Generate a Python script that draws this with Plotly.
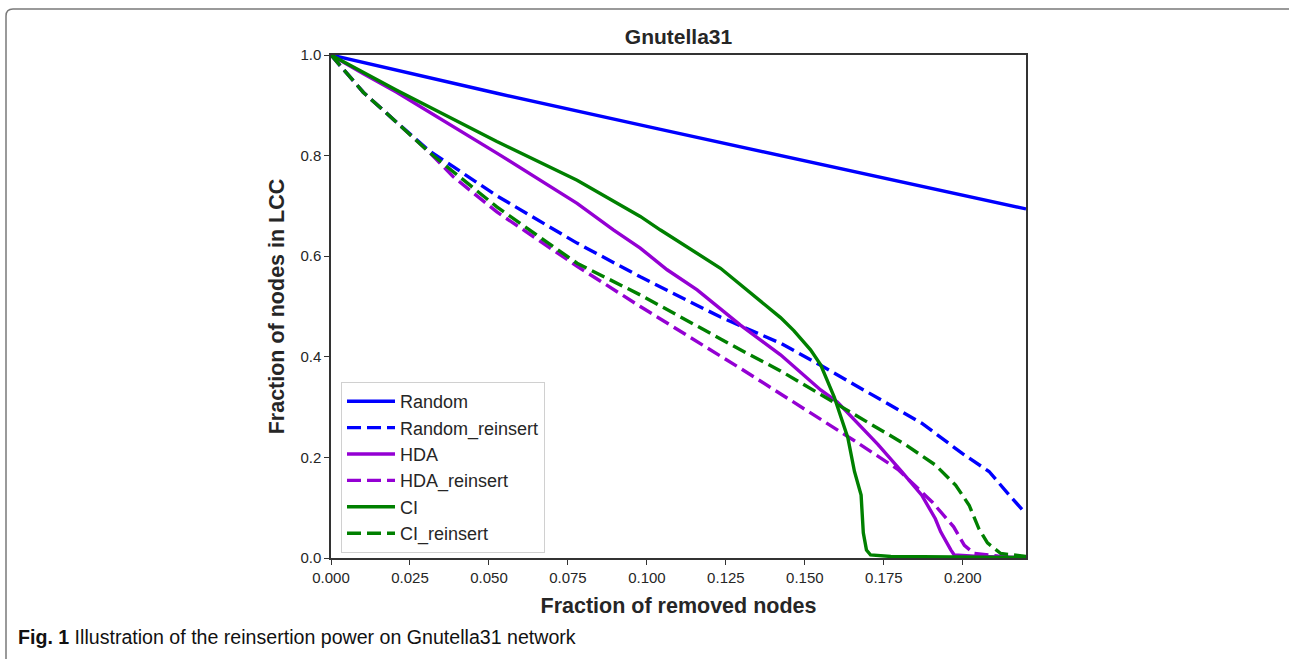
import plotly.graph_objects as go

# ---- data ----
random_x = [0, 0.0525, 0.1043, 0.15, 0.22]
random_y = [1.0, 0.924, 0.852, 0.790, 0.694]

random_re_x = [0, 0.0102, 0.0208, 0.0314, 0.0387, 0.0525, 0.0779, 0.0979, 0.1233,
               0.1423, 0.155, 0.1708, 0.187, 0.1998, 0.2083, 0.2147, 0.22]
random_re_y = [1.0, 0.926, 0.866, 0.808, 0.778, 0.72, 0.626, 0.559, 0.479,
               0.427, 0.383, 0.327, 0.268, 0.208, 0.172, 0.125, 0.088]

hda_x = [0, 0.0104, 0.0208, 0.0398, 0.0525, 0.0779, 0.0895, 0.0979, 0.1064, 0.1159,
         0.1296, 0.1423, 0.155, 0.1603, 0.1731, 0.1806, 0.187, 0.1913, 0.193,
         0.1962, 0.1973, 0.205, 0.22]
hda_y = [1.0, 0.962, 0.926, 0.854, 0.805, 0.705, 0.652, 0.616, 0.573, 0.533,
         0.463, 0.404, 0.334, 0.31, 0.226, 0.172, 0.125, 0.078, 0.052,
         0.016, 0.006, 0.003, 0.001]

hda_re_x = [0, 0.0102, 0.0208, 0.0314, 0.0387, 0.0525, 0.0779, 0.0979, 0.1296,
            0.1423, 0.155, 0.1657, 0.1795, 0.1902, 0.1971, 0.2005, 0.2036, 0.211, 0.22]
hda_re_y = [1.0, 0.926, 0.866, 0.805, 0.758, 0.688, 0.58, 0.5, 0.377,
            0.327, 0.276, 0.233, 0.176, 0.112, 0.062, 0.025, 0.009, 0.004, 0.001]

ci_x = [0, 0.0104, 0.0208, 0.0525, 0.0779, 0.0979, 0.1043, 0.1233, 0.1381, 0.1423,
        0.1465, 0.1518, 0.155, 0.1593, 0.1636, 0.1657, 0.1678, 0.1685, 0.1695, 0.1708,
        0.1772, 0.2, 0.22]
ci_y = [1.0, 0.965, 0.93, 0.828, 0.751, 0.679, 0.652, 0.576, 0.5, 0.478,
        0.452, 0.414, 0.384, 0.32, 0.239, 0.172, 0.125, 0.05, 0.016, 0.006,
        0.003, 0.0015, 0.001]

ci_re_x = [0, 0.0102, 0.0208, 0.0314, 0.0387, 0.0525, 0.0779, 0.0979, 0.1296,
           0.1423, 0.155, 0.1646, 0.1817, 0.1913, 0.1977, 0.202, 0.2051, 0.2078, 0.212, 0.22]
ci_re_y = [1.0, 0.926, 0.866, 0.805, 0.768, 0.698, 0.586, 0.523, 0.414,
           0.372, 0.325, 0.289, 0.226, 0.185, 0.145, 0.105, 0.058, 0.03, 0.009, 0.003]

x_ticks = [0.0, 0.025, 0.05, 0.075, 0.1, 0.125, 0.15, 0.175, 0.2]
x_tick_labels = ["0.000", "0.025", "0.050", "0.075", "0.100", "0.125", "0.150", "0.175", "0.200"]
y_ticks = [0.0, 0.2, 0.4, 0.6, 0.8, 1.0]
y_tick_labels = ["0.0", "0.2", "0.4", "0.6", "0.8", "1.0"]

DASH = "14px,6px"
series = [
    ("Random", random_x, random_y, "#0000ff", "solid"),
    ("Random_reinsert", random_re_x, random_re_y, "#0000ff", DASH),
    ("HDA", hda_x, hda_y, "#9400d3", "solid"),
    ("HDA_reinsert", hda_re_x, hda_re_y, "#9400d3", DASH),
    ("CI", ci_x, ci_y, "#008000", "solid"),
    ("CI_reinsert", ci_re_x, ci_re_y, "#008000", DASH),
]

W, H = 1289, 659
L, R, T, B = 331, 1026, 55, 558
pw, ph = R - L, B - T

fig = go.Figure()
for name, xs, ys, col, dash in series:
    fig.add_trace(go.Scatter(x=xs, y=ys, mode="lines", name=name,
                             line=dict(color=col, width=3.4, dash=dash)))

TXT = "#262626"
FONT = "Liberation Sans, Arial, sans-serif"

def px_x(p):
    return (p - L) / pw

def px_y(p):
    return (B - p) / ph

# outer rounded frame (left + top edges visible)
x0, x1 = px_x(6), px_x(1310)
yt, yb = px_y(9), px_y(680)
rx, ry = 7 / pw, 7 / ph
fig.add_shape(type="path", xref="paper", yref="paper",
              path=f"M {x0},{yb} L {x0},{yt - ry} Q {x0},{yt} {x0 + rx},{yt} L {x1},{yt}",
              line=dict(color="#7a7a7a", width=1.5))

fig.add_annotation(xref="paper", yref="paper", x=px_x(16), y=px_y(637),
                   xanchor="left", yanchor="middle", showarrow=False,
                   text="<b>Fig. 1</b> Illustration of the reinsertion power on Gnutella31 network",
                   font=dict(family=FONT, size=19.6, color="#111111"))

fig.update_layout(
    width=W, height=H,
    margin=dict(l=L, r=W - R, t=T, b=H - B, autoexpand=False),
    paper_bgcolor="white", plot_bgcolor="white",
    title=dict(text="<b>Gnutella31</b>", x=0.5, xref="paper", xanchor="center",
               y=1 - 37 / H, yanchor="middle", font=dict(family=FONT, size=21, color=TXT)),
    font=dict(family=FONT, color=TXT),
    showlegend=True,
    legend=dict(x=px_x(341), y=px_y(553), xanchor="left", yanchor="bottom",
                bgcolor="white", bordercolor="#d0d0d0", borderwidth=1,
                font=dict(family=FONT, size=18, color=TXT),
                itemwidth=48),
    xaxis=dict(range=[0, 0.22], tickvals=x_ticks, ticktext=x_tick_labels,
               showgrid=False, zeroline=False, showline=True, mirror=True,
               linecolor="#333333", linewidth=1.5, ticks="outside", ticklen=5,
               tickcolor="#333333", tickwidth=1.2,
               tickfont=dict(family=FONT, size=15, color=TXT),
               title=dict(text="<b>Fraction of removed nodes</b>", standoff=13,
                          font=dict(family=FONT, size=21.5, color=TXT))),
    yaxis=dict(range=[0, 1], tickvals=y_ticks, ticktext=y_tick_labels,
               showgrid=False, zeroline=False, showline=True, mirror=True,
               linecolor="#333333", linewidth=1.5, ticks="outside", ticklen=5,
               tickcolor="#333333", tickwidth=1.2,
               tickfont=dict(family=FONT, size=15, color=TXT),
               title=dict(text="<b>Fraction of nodes in LCC</b>", standoff=10,
                          font=dict(family=FONT, size=21.5, color=TXT))),
)

fig.write_html("out.html")
